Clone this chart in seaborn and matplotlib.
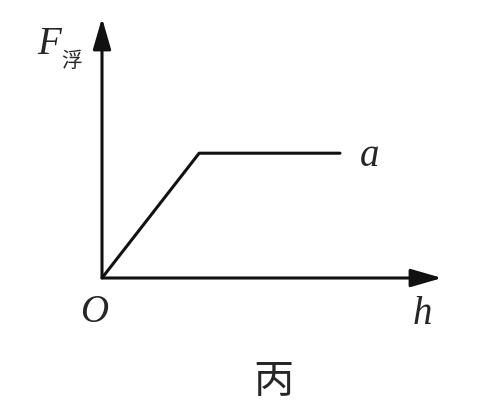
import matplotlib
matplotlib.use("Agg")
import matplotlib.pyplot as plt
import seaborn as sns
import pandas as pd

# graph of buoyant force vs depth: rises, then flat
h_vals = [0, 2.0, 4.9]
f_vals = [0, 2.4, 2.4]
x_max = 7
y_max = 5

W, H = 492, 404

sns.set_theme(style="white")
plt.rcParams['font.family'] = ['Liberation Serif', 'Noto Sans CJK SC', 'DejaVu Sans']

fig = plt.figure(figsize=(W / 100, H / 100), dpi=100)
fig.patch.set_facecolor("white")
ax = fig.add_axes([102 / W, 126 / H, 340 / W, 260 / H])
ax.set_facecolor("none")

df = pd.DataFrame({"h": h_vals, "F": f_vals})
sns.lineplot(data=df, x="h", y="F", color="#111111", linewidth=2.2, ax=ax)

ax.set_xlim(0, x_max)
ax.set_ylim(0, y_max)
for s in ax.spines.values():
    s.set_visible(False)
ax.set_xticks([])
ax.set_yticks([])
ax.set_xlabel("")
ax.set_ylabel("")

arrow = dict(arrowstyle="-|>,head_length=1.9,head_width=0.55", lw=2.2,
             color="#111111", mutation_scale=10, shrinkA=0, shrinkB=0)
ax.annotate("", xy=(1, 0), xytext=(0, 0), xycoords="axes fraction", arrowprops=arrow)
ax.annotate("", xy=(0, 1), xytext=(0, 0), xycoords="axes fraction", arrowprops=arrow)


def px(x, y):
    return x / W, 1 - y / H


fig.text(*px(49, 45), "F", fontsize=28, style="italic", ha="center", va="center")
fig.text(*px(72, 61), "浮", fontsize=15, family=["Noto Sans CJK SC"], ha="center", va="center")
fig.text(*px(94, 312), "O", fontsize=28, style="italic", ha="center", va="center")
fig.text(*px(422, 315), "h", fontsize=28, style="italic", ha="center", va="center")
fig.text(*px(370, 157), "a", fontsize=28, style="italic", ha="center", va="center")
fig.text(*px(273, 381), "丙", fontsize=29, family=["Noto Sans CJK SC"], ha="center", va="center")

fig.savefig("out.png", dpi=100)
